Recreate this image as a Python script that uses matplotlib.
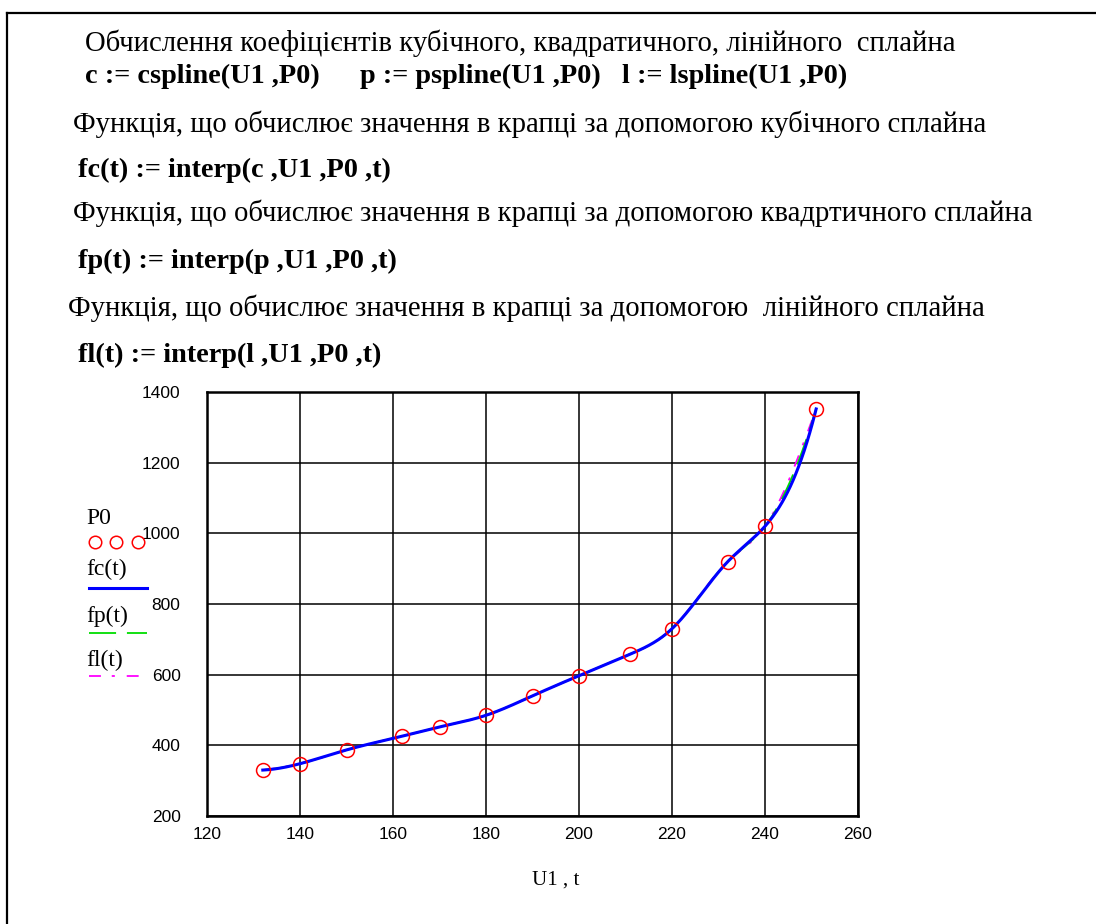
import matplotlib
matplotlib.use("Agg")
import matplotlib.pyplot as plt
import numpy as np
from matplotlib.lines import Line2D

# measured points
U1 = np.array([132, 140, 150, 162, 170, 180, 190, 200, 211, 220, 232, 240, 251], dtype=float)
P0 = np.array([330, 348, 387, 426, 452, 485, 540, 597, 658, 730, 920, 1020, 1352], dtype=float)

X_TICKS = [120, 140, 160, 180, 200, 220, 240, 260]
Y_TICKS = [200, 400, 600, 800, 1000, 1200, 1400]

W, H = 1096, 924
SERIF = ["Liberation Serif", "DejaVu Serif"]
SANS = ["Liberation Sans", "DejaVu Sans"]

STYLE_C = dict(color="#0000ff", lw=2.2, ls="-")
STYLE_P = dict(color="#00dd00", lw=1.3, ls=(0, (15, 6)))
STYLE_L = dict(color="#ff00ff", lw=1.3, ls=(0, (6.6, 6, 1.7, 6.6)))


def spline_coeffs(x, y, end):
    """Second derivatives of a cubic spline with Mathcad-style end conditions."""
    n = len(x)
    h = np.diff(x)
    A = np.zeros((n, n))
    b = np.zeros(n)
    for i in range(1, n - 1):
        A[i, i - 1] = h[i - 1]
        A[i, i] = 2 * (h[i - 1] + h[i])
        A[i, i + 1] = h[i]
        b[i] = 6 * ((y[i + 1] - y[i]) / h[i] - (y[i] - y[i - 1]) / h[i - 1])
    if end == "linear":
        A[0, 0] = 1
        A[-1, -1] = 1
    elif end == "parabolic":
        A[0, 0], A[0, 1] = 1, -1
        A[-1, -1], A[-1, -2] = 1, -1
    else:  # cubic: second derivative extrapolated linearly at the ends
        A[0, 0] = 1
        A[0, 1] = -(1 + h[0] / h[1])
        A[0, 2] = h[0] / h[1]
        A[-1, -1] = 1
        A[-1, -2] = -(1 + h[-1] / h[-2])
        A[-1, -3] = h[-1] / h[-2]
    return np.linalg.solve(A, b)


def interp(M, x, y, t):
    i = np.clip(np.searchsorted(x, t) - 1, 0, len(x) - 2)
    h = x[i + 1] - x[i]
    a = x[i + 1] - t
    c = t - x[i]
    return (M[i] * a ** 3 + M[i + 1] * c ** 3) / (6 * h) \
        + (y[i] / h - M[i] * h / 6) * a + (y[i + 1] / h - M[i + 1] * h / 6) * c


c = spline_coeffs(U1, P0, "cubic")
p = spline_coeffs(U1, P0, "parabolic")
l = spline_coeffs(U1, P0, "linear")
t = np.linspace(U1[0], U1[-1], 600)

fig = plt.figure(figsize=(W / 100, H / 100), dpi=100, facecolor="white")


def fx(px):
    return px / W


def fy(py):
    return 1 - py / H


# worksheet frame
fig.add_artist(Line2D([fx(7), fx(W)], [fy(13), fy(13)], color="black", lw=1.6))
fig.add_artist(Line2D([fx(7), fx(7)], [fy(13), fy(H)], color="black", lw=1.6))

# worksheet text
TEXT_SIZE = 20.7
MATH_SIZE = 20.3
lines = [
    (85, 43, "Обчислення коефіцієнтів кубічного, квадратичного, лінійного  сплайна", "normal"),
    (73, 124, "Функція, що обчислює значення в крапці за допомогою кубічного сплайна", "normal"),
    (78, 170, "fc(t) := interp(c ,U1 ,P0 ,t)", "bold"),
    (73, 213, "Функція, що обчислює значення в крапці за допомогою квадртичного сплайна", "normal"),
    (78, 261, "fp(t) := interp(p ,U1 ,P0 ,t)", "bold"),
    (68, 308, "Функція, що обчислює значення в крапці за допомогою  лінійного сплайна", "normal"),
    (78, 355, "fl(t) := interp(l ,U1 ,P0 ,t)", "bold"),
]
for x0, y0, s, w in lines:
    size = MATH_SIZE if w == "bold" else TEXT_SIZE
    fig.text(fx(x0), fy(y0), s, family=SERIF, fontsize=size, weight=w, va="center", ha="left")

for x0, s in [(85, "c := cspline(U1 ,P0)"), (360, "p := pspline(U1 ,P0)"), (622, "l := lspline(U1 ,P0)")]:
    fig.text(fx(x0), fy(76), s, family=SERIF, fontsize=MATH_SIZE, weight="bold", va="center", ha="left")

# plot region
ax = fig.add_axes([fx(207), fy(816), fx(858) - fx(207), fy(392) - fy(816)])
ax.plot(t, interp(l, U1, P0, t), **STYLE_L, zorder=3)
ax.plot(t, interp(p, U1, P0, t), **STYLE_P, zorder=4)
ax.plot(t, interp(c, U1, P0, t), **STYLE_C, zorder=5)
ax.plot(U1, P0, ls="none", marker="o", ms=10, mfc="none", mec="#ff0000", mew=1.1, zorder=6)

ax.set_xlim(X_TICKS[0], X_TICKS[-1])
ax.set_ylim(Y_TICKS[0], Y_TICKS[-1])
ax.set_xticks(X_TICKS)
ax.set_yticks(Y_TICKS)
ax.grid(True, color="black", lw=1.1)
ax.set_axisbelow(True)
for sp in ax.spines.values():
    sp.set_linewidth(1.8)
ax.tick_params(length=0)
ax.tick_params(axis="y", pad=19)
ax.tick_params(axis="x", pad=8)
for lab in ax.get_xticklabels() + ax.get_yticklabels():
    lab.set_fontfamily(SANS)
    lab.set_fontsize(12.5)

fig.text(fx(556), fy(880), "U1 , t", family=SERIF, fontsize=15, ha="center", va="center")

# legend block to the left of the plot
LEG_SIZE = 17
fig.text(fx(86), fy(518), "P0", family=SERIF, fontsize=LEG_SIZE, va="center")
fig.add_artist(Line2D([fx(95), fx(116), fx(138)], [fy(542)] * 3, ls="none", marker="o", ms=9,
                      mfc="none", mec="#ff0000", mew=1.1))
fig.text(fx(86), fy(569), "fc(t)", family=SERIF, fontsize=LEG_SIZE, va="center")
fig.add_artist(Line2D([fx(89), fx(147)], [fy(588)] * 2, **STYLE_C))
fig.text(fx(86), fy(616), "fp(t)", family=SERIF, fontsize=LEG_SIZE, va="center")
fig.add_artist(Line2D([fx(89), fx(147)], [fy(633)] * 2, **STYLE_P))
fig.text(fx(86), fy(660), "fl(t)", family=SERIF, fontsize=LEG_SIZE, va="center")
fig.add_artist(Line2D([fx(89), fx(147)], [fy(676)] * 2, **STYLE_L))

fig.savefig("out.png", dpi=100, facecolor="white")
